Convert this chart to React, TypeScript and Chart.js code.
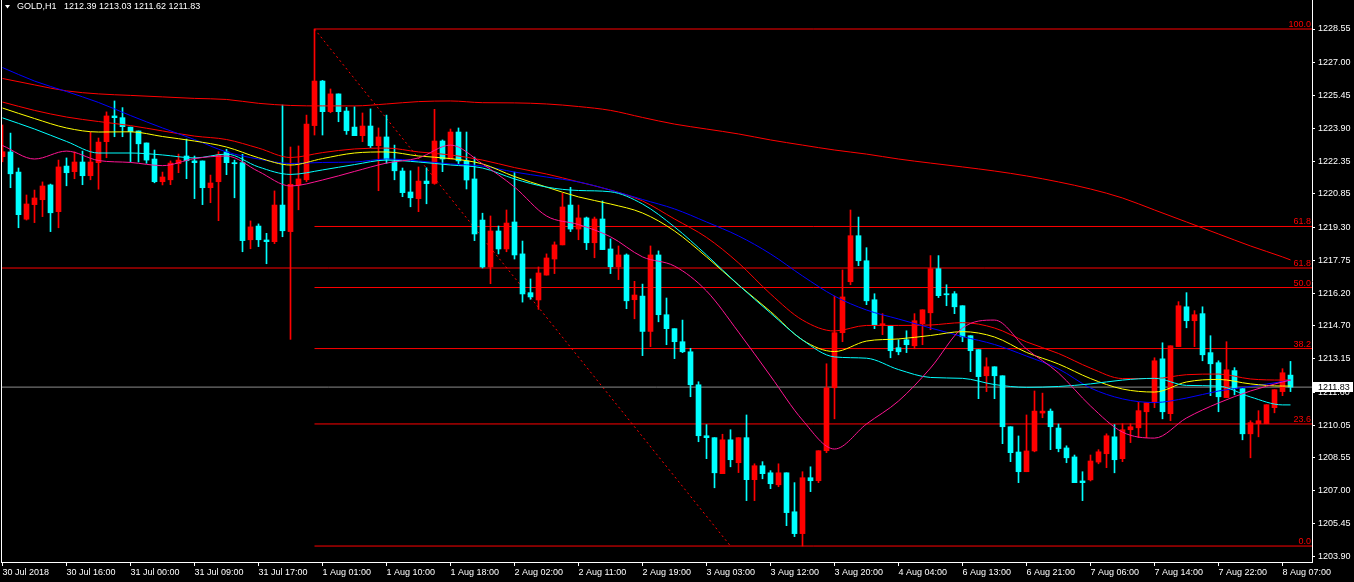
import React, { useEffect, useRef } from 'react';
import { Chart, registerables } from 'chart.js';

Chart.register(...registerables);

// ---------- DATA ----------
const symbolName = 'GOLD,H1';

const opens = [
  1222.59, 1222.81, 1221.87, 1219.67, 1220.35, 1220.58, 1221.27, 1220.02, 1222.15, 1221.89,
  1222.34, 1221.70, 1222.31, 1223.29, 1224.49, 1224.41, 1223.97, 1223.79, 1223.23, 1222.48,
  1221.42, 1221.51, 1222.26, 1222.62, 1222.39, 1222.39, 1221.14, 1221.42, 1222.81, 1222.31,
  1222.31, 1218.71, 1219.35, 1218.70, 1218.62, 1220.33, 1219.09, 1221.27, 1221.51, 1224.04,
  1226.12, 1224.69, 1225.52, 1224.72, 1223.97, 1223.57, 1224.02, 1223.10, 1223.51, 1222.35,
  1221.92, 1220.94, 1220.63, 1221.45, 1221.34, 1223.32, 1222.48, 1223.74, 1222.39, 1221.55,
  1219.63, 1217.44, 1219.12, 1218.28, 1219.54, 1218.05, 1216.24, 1215.90, 1217.06, 1217.81,
  1218.47, 1220.33, 1219.21, 1219.73, 1218.57, 1219.68, 1218.28, 1217.45, 1218.00, 1215.91,
  1216.08, 1214.43, 1218.00, 1215.21, 1214.56, 1213.95, 1213.48, 1211.94, 1209.56, 1209.47,
  1207.79, 1209.37, 1208.30, 1209.47, 1207.51, 1208.16, 1207.83, 1207.27, 1207.83, 1206.01,
  1204.99, 1207.60, 1207.46, 1208.86, 1211.80, 1214.37, 1216.75, 1218.90, 1217.73, 1215.91,
  1214.70, 1214.70, 1213.67, 1214.04, 1213.76, 1214.79, 1215.30, 1217.36, 1216.19, 1216.19,
  1215.63, 1214.23, 1213.58, 1212.36, 1212.78, 1212.36, 1209.98, 1208.80, 1207.88, 1208.85,
  1210.62, 1210.71, 1209.92, 1208.99, 1208.57, 1207.45, 1207.50, 1208.33, 1208.72, 1209.51,
  1208.49, 1209.84, 1209.93, 1210.68, 1211.10, 1213.15, 1210.59, 1213.72, 1215.58, 1214.93,
  1215.26, 1213.44, 1212.97, 1211.34, 1212.60, 1211.76, 1209.65, 1210.12, 1210.12, 1210.87,
  1211.62, 1212.39,
];
const highs = [
  1224.07, 1223.69, 1222.06, 1220.80, 1221.03, 1221.41, 1221.31, 1222.43, 1222.53, 1222.81,
  1222.85, 1223.74, 1223.46, 1224.68, 1225.19, 1224.88, 1223.97, 1223.79, 1223.23, 1222.90,
  1221.87, 1222.39, 1222.71, 1223.41, 1222.62, 1222.39, 1221.73, 1222.82, 1222.93, 1222.43,
  1222.70, 1219.59, 1219.45, 1219.01, 1220.99, 1225.00, 1223.04, 1223.09, 1224.53, 1228.55,
  1226.15, 1225.75, 1225.52, 1224.89, 1224.92, 1224.63, 1224.82, 1223.93, 1224.53, 1223.13,
  1222.06, 1221.93, 1222.11, 1222.07, 1224.80, 1223.37, 1223.88, 1223.93, 1223.74, 1222.57,
  1219.95, 1219.82, 1219.35, 1220.10, 1221.87, 1218.65, 1216.88, 1217.44, 1218.05, 1218.61,
  1220.88, 1221.16, 1220.33, 1219.77, 1219.77, 1220.52, 1218.75, 1218.42, 1218.05, 1216.77,
  1216.64, 1218.42, 1218.19, 1215.99, 1214.56, 1214.96, 1213.64, 1212.08, 1210.08, 1209.47,
  1209.63, 1209.84, 1209.47, 1210.53, 1208.25, 1208.35, 1207.93, 1208.25, 1207.83, 1207.37,
  1207.88, 1208.11, 1208.86, 1212.92, 1216.08, 1217.30, 1220.10, 1219.77, 1218.34, 1216.19,
  1215.26, 1214.70, 1214.04, 1214.46, 1215.26, 1215.44, 1217.97, 1217.97, 1216.61, 1216.29,
  1215.63, 1214.23, 1213.58, 1213.20, 1212.78, 1212.36, 1209.98, 1209.55, 1210.53, 1211.65,
  1211.55, 1210.81, 1210.11, 1209.09, 1208.66, 1207.88, 1208.66, 1208.91, 1209.65, 1210.08,
  1210.12, 1210.12, 1211.12, 1211.10, 1213.20, 1213.90, 1213.76, 1215.82, 1216.24, 1215.40,
  1215.58, 1214.23, 1213.06, 1213.95, 1212.74, 1211.76, 1210.26, 1210.73, 1211.01, 1211.71,
  1212.69, 1213.03,
];
const lows = [
  1222.35, 1221.14, 1219.27, 1219.63, 1219.51, 1219.79, 1219.09, 1219.27, 1221.23, 1221.56,
  1221.28, 1221.51, 1221.07, 1222.54, 1223.52, 1223.52, 1222.34, 1222.34, 1222.28, 1221.37,
  1221.27, 1221.28, 1221.84, 1221.56, 1220.63, 1220.35, 1220.44, 1219.60, 1221.75, 1220.67,
  1218.15, 1218.29, 1218.39, 1217.59, 1218.53, 1218.85, 1214.06, 1220.11, 1221.42, 1223.60,
  1223.60, 1224.64, 1224.22, 1223.63, 1223.57, 1223.29, 1223.01, 1221.00, 1222.28, 1221.51,
  1220.72, 1220.25, 1220.02, 1220.39, 1221.30, 1221.89, 1222.48, 1222.26, 1221.08, 1218.67,
  1217.39, 1216.66, 1218.05, 1218.15, 1217.81, 1215.80, 1215.93, 1215.46, 1217.06, 1217.13,
  1218.47, 1219.09, 1218.71, 1218.25, 1217.87, 1218.25, 1217.13, 1216.85, 1215.49, 1215.02,
  1213.30, 1213.72, 1214.88, 1213.81, 1213.16, 1213.44, 1211.38, 1209.28, 1208.49, 1207.13,
  1207.79, 1208.11, 1207.84, 1206.53, 1206.53, 1207.55, 1207.09, 1207.18, 1205.36, 1204.85,
  1204.41, 1206.95, 1207.37, 1208.77, 1210.35, 1213.95, 1216.61, 1217.50, 1215.68, 1214.56,
  1214.28, 1213.20, 1213.34, 1213.44, 1213.62, 1213.81, 1214.51, 1216.01, 1215.63, 1215.26,
  1213.95, 1212.55, 1211.29, 1211.62, 1211.29, 1209.19, 1208.35, 1207.37, 1207.88, 1208.81,
  1210.40, 1208.91, 1208.81, 1208.30, 1207.37, 1206.53, 1207.45, 1208.25, 1208.07, 1207.83,
  1208.35, 1209.24, 1209.47, 1209.47, 1210.87, 1210.35, 1210.26, 1213.72, 1214.60, 1213.72,
  1213.06, 1211.43, 1210.68, 1211.34, 1211.47, 1209.37, 1208.53, 1209.51, 1210.12, 1210.63,
  1211.43, 1211.62,
];
const closes = [
  1222.82, 1221.79, 1219.88, 1220.38, 1220.66, 1221.22, 1219.97, 1222.11, 1221.84, 1222.34,
  1221.70, 1222.34, 1223.27, 1224.49, 1224.41, 1223.99, 1223.76, 1223.19, 1222.43, 1221.42,
  1221.64, 1222.29, 1222.43, 1222.40, 1222.31, 1221.14, 1221.36, 1222.68, 1222.31, 1222.26,
  1218.67, 1219.31, 1218.71, 1218.62, 1220.33, 1219.13, 1221.30, 1221.55, 1224.11, 1226.12,
  1224.69, 1225.52, 1224.69, 1223.80, 1223.57, 1224.02, 1223.10, 1223.51, 1222.47, 1221.93,
  1220.91, 1220.67, 1221.45, 1221.33, 1223.32, 1222.48, 1223.74, 1222.39, 1221.50, 1218.98,
  1217.44, 1219.12, 1218.28, 1219.49, 1218.00, 1216.18, 1216.04, 1217.16, 1217.86, 1218.47,
  1220.24, 1219.21, 1219.73, 1218.57, 1219.68, 1218.25, 1217.45, 1218.00, 1215.86, 1216.13,
  1214.43, 1218.00, 1215.21, 1214.56, 1213.95, 1213.48, 1211.94, 1209.56, 1209.47, 1207.83,
  1209.37, 1208.44, 1209.47, 1207.51, 1208.16, 1207.79, 1207.32, 1207.83, 1205.97, 1204.99,
  1207.60, 1207.46, 1208.86, 1211.80, 1214.37, 1216.04, 1218.90, 1217.73, 1215.86, 1214.74,
  1214.79, 1213.53, 1213.48, 1213.81, 1214.93, 1215.44, 1217.36, 1216.10, 1216.14, 1215.58,
  1214.18, 1213.53, 1212.32, 1212.78, 1212.36, 1209.98, 1208.77, 1207.88, 1208.85, 1210.71,
  1210.71, 1209.98, 1208.96, 1208.53, 1207.37, 1207.37, 1208.38, 1208.81, 1209.56, 1208.44,
  1209.84, 1209.98, 1210.73, 1211.10, 1213.06, 1210.68, 1213.76, 1215.63, 1214.93, 1215.21,
  1213.34, 1212.92, 1211.38, 1212.64, 1211.76, 1209.65, 1210.17, 1210.26, 1211.01, 1211.71,
  1212.50, 1211.83,
];

// moving averages, read at every 4th bar (bar index in maBars)
const maBars = [
  0, 4, 8, 12, 16, 20, 24, 28, 32, 36, 40, 44, 48, 52, 56, 60, 64, 68, 72, 76, 80,
  84, 88, 92, 96, 100, 104, 108, 112, 116, 120, 124, 128, 132, 136, 140, 144, 148, 152, 156, 160, 161,
];
const maSlowRed = [
  1226.24, 1225.94, 1225.66, 1225.52, 1225.45, 1225.38, 1225.31, 1225.26, 1225.08, 1224.98, 1224.96,
  1224.96, 1225.05, 1225.16, 1225.19, 1225.11, 1225.10, 1225.05, 1224.93, 1224.75, 1224.42,
  1224.11, 1223.88, 1223.65, 1223.37, 1223.13, 1222.90, 1222.71, 1222.48, 1222.29, 1222.11,
  1221.92, 1221.69, 1221.41, 1221.08, 1220.66, 1220.10, 1219.54, 1218.98, 1218.42, 1217.91, 1217.77,
];
const maBlue = [
  1226.75, 1226.12, 1225.63, 1225.12, 1224.51, 1223.93, 1223.39, 1222.81, 1222.48, 1222.27, 1222.32,
  1222.34, 1222.48, 1222.39, 1222.25, 1222.15, 1221.87, 1221.64, 1221.41, 1221.03, 1220.59,
  1220.15, 1219.54, 1218.89, 1218.05, 1217.02, 1216.08, 1215.43, 1215.01, 1214.59, 1214.19,
  1213.82, 1213.28, 1212.68, 1211.79, 1211.28, 1211.11, 1211.32, 1211.65, 1211.86, 1212.09, 1212.16,
];
const maYellow = [
  1224.86, 1224.37, 1223.93, 1223.74, 1223.75, 1223.53, 1223.32, 1223.04, 1222.54, 1222.20, 1222.50,
  1222.76, 1222.81, 1222.62, 1222.50, 1222.25, 1221.66, 1221.17, 1220.71, 1220.38, 1219.96,
  1219.12, 1217.91, 1216.60, 1215.36, 1214.03, 1213.49, 1213.98, 1214.08, 1214.24, 1214.42,
  1214.17, 1213.45, 1212.91, 1212.23, 1211.74, 1211.60, 1212.07, 1212.19, 1211.98, 1211.88, 1211.88,
];
const maCyan = [
  1224.40, 1223.88, 1223.30, 1222.76, 1222.76, 1222.67, 1222.53, 1222.71, 1222.11, 1221.76, 1221.97,
  1222.22, 1222.43, 1222.34, 1222.20, 1222.06, 1221.55, 1221.17, 1221.01, 1220.95, 1220.38,
  1219.31, 1218.00, 1216.60, 1215.29, 1214.03, 1213.24, 1213.18, 1212.65, 1212.28, 1212.24,
  1211.95, 1211.82, 1211.86, 1211.98, 1212.16, 1212.24, 1211.91, 1211.88, 1211.37, 1211.00, 1211.00,
];
const maMidRed = [
  1225.14, 1224.75, 1224.44, 1224.23, 1224.04, 1223.79, 1223.55, 1223.39, 1222.99, 1222.55, 1222.78,
  1222.95, 1222.99, 1222.81, 1222.67, 1222.43, 1222.08, 1221.78, 1221.41, 1221.03, 1220.52,
  1219.68, 1218.82, 1217.63, 1216.18, 1214.96, 1214.45, 1214.71, 1214.71, 1214.73, 1214.84,
  1214.59, 1213.94, 1213.40, 1212.72, 1212.23, 1212.23, 1212.41, 1212.44, 1212.21, 1212.16, 1212.16,
];
const maPink = [
  1223.11, 1222.48, 1222.85, 1222.41, 1222.32, 1222.17, 1222.50, 1222.62, 1221.90, 1221.22, 1221.50,
  1221.90, 1222.29, 1222.53, 1223.13, 1222.25, 1221.17, 1219.82, 1219.42, 1218.85, 1217.91,
  1217.48, 1216.32, 1214.40, 1212.35, 1210.29, 1208.94, 1210.11, 1211.18, 1212.72, 1214.59,
  1214.96, 1213.61, 1212.49, 1210.95, 1209.73, 1209.45, 1210.39, 1211.09, 1211.65, 1212.07, 1212.16,
];

const timeTickBars = [0, 8, 16, 24, 32, 40, 48, 56, 64, 72, 80, 88, 96, 104, 112, 120, 128, 136, 144, 152, 160];
const timeLabels = [
  '30 Jul 2018', '30 Jul 16:00', '31 Jul 00:00', '31 Jul 09:00', '31 Jul 17:00', '1 Aug 01:00',
  '1 Aug 10:00', '1 Aug 18:00', '2 Aug 02:00', '2 Aug 11:00', '2 Aug 19:00', '3 Aug 03:00',
  '3 Aug 12:00', '3 Aug 20:00', '4 Aug 04:00', '6 Aug 13:00', '6 Aug 21:00', '7 Aug 06:00',
  '7 Aug 14:00', '7 Aug 22:00', '8 Aug 07:00',
];
const priceTicks = [
  1228.55, 1227.0, 1225.45, 1223.9, 1222.35, 1220.85, 1219.3, 1217.75, 1216.2,
  1214.7, 1213.15, 1211.6, 1210.05, 1208.55, 1207.0, 1205.45, 1203.9,
];

// Fibonacci retracement (from the high bar to the anchor bar)
const fibNames = ['100.0', '61.8', '50.0', '38.2', '23.6', '0.0'];
const fibPrices = [1228.55, 1219.33, 1216.48, 1213.63, 1210.11, 1204.41];
const fibStartBar = 39;
const fibEndBar = 91;
const fib2Name = '61.8';
const fib2Price = 1217.39;

// ---------- LAYOUT CONSTANTS ----------
const X_MIN = -0.1875;
const X_MAX = 163.6875;
const Y_MIN = 1203.665;
const Y_MAX = 1229.904;
const FONT = '"Liberation Sans", Arial, sans-serif';

const RED = '#ff0000';
const AQUA = '#00ffff';

export default function App() {
  const ref = useRef<HTMLCanvasElement | null>(null);

  useEffect(() => {
    document.body.style.margin = '0';
    document.body.style.background = '#000';
    const canvas = ref.current;
    if (!canvas) return;

    const bars = opens.map((_, i) => i);
    const colors = opens.map((o, i) => (closes[i] >= o ? RED : AQUA));
    const last = closes.length - 1;

    const maLine = (vals: number[], color: string, order: number) => ({
      type: 'line' as const,
      data: maBars.map((b, i) => ({ x: b, y: vals[i] })),
      borderColor: color,
      borderWidth: 1,
      pointRadius: 0,
      cubicInterpolationMode: 'monotone' as const,
      order,
    });

    const hLine = (from: number, to: number, price: number, color: string, order: number, dash: number[] = []) => ({
      type: 'line' as const,
      data: [
        { x: from, y: price },
        { x: to, y: price },
      ],
      borderColor: color,
      borderWidth: 1,
      borderDash: dash,
      pointRadius: 0,
      order,
    });

    const decor = {
      id: 'decor',
      beforeDraw(chart: any) {
        const c = chart.ctx;
        c.save();
        c.fillStyle = '#000';
        c.fillRect(0, 0, chart.width, chart.height);
        c.restore();
      },
      afterDraw(chart: any) {
        const c = chart.ctx;
        const area = chart.chartArea;
        const ys = chart.scales.y;
        c.save();
        // left frame
        c.strokeStyle = '#fff';
        c.lineWidth = 1;
        c.beginPath();
        c.moveTo(area.left + 0.5, 0);
        c.lineTo(area.left + 0.5, area.bottom);
        c.stroke();

        // fib labels
        c.font = `9px ${FONT}`;
        c.fillStyle = RED;
        c.textAlign = 'right';
        c.textBaseline = 'alphabetic';
        fibPrices.forEach((p, i) => {
          c.fillText(fibNames[i], area.right - 1, Math.round(ys.getPixelForValue(p)) - 2);
        });
        c.fillText(fib2Name, area.right - 1, Math.round(ys.getPixelForValue(fib2Price)) - 2);

        // current price box
        const py = Math.round(ys.getPixelForValue(closes[last]));
        c.fillStyle = '#fff';
        c.fillRect(area.right + 1, py - 5, 40, 10);
        c.fillStyle = '#000';
        c.textAlign = 'left';
        c.textBaseline = 'middle';
        c.fillText(closes[last].toFixed(2), area.right + 6, py + 0.5);

        // header
        c.fillStyle = '#fff';
        c.beginPath();
        c.moveTo(5, 5);
        c.lineTo(10, 5);
        c.lineTo(7.5, 8.5);
        c.closePath();
        c.fill();
        c.textBaseline = 'middle';
        c.fillText(symbolName, 17, 7);
        c.fillText(
          [opens[last], highs[last], lows[last], closes[last]].map((v) => v.toFixed(2)).join(' '),
          64,
          7
        );
        c.restore();
      },
    };

    const chart = new Chart(canvas, {
      type: 'bar',
      data: {
        datasets: [
          maLine(maPink, '#ff1493', 0),
          maLine(maCyan, AQUA, 0),
          maLine(maYellow, '#ffff00', 0),
          maLine(maBlue, '#0000ff', 0),
          maLine(maMidRed, RED, 0),
          maLine(maSlowRed, RED, 0),
          {
            type: 'bar',
            data: bars.map((i) => ({ x: i, y: [opens[i], closes[i]] })),
            backgroundColor: colors,
            borderWidth: 0,
            barThickness: 5,
            maxBarThickness: 5,
            minBarLength: 1,
            grouped: false,
            order: 2,
          } as any,
          {
            type: 'bar',
            data: bars.map((i) => ({ x: i, y: [lows[i], highs[i]] })),
            backgroundColor: colors,
            borderWidth: 0,
            barThickness: 1,
            maxBarThickness: 1,
            minBarLength: 1,
            grouped: false,
            order: 3,
          } as any,
          hLine(X_MIN, X_MAX, closes[last], '#8c8c8c', 4),
          hLine(X_MIN, X_MAX, fib2Price, RED, 5),
          ...fibPrices.map((p) => hLine(fibStartBar, X_MAX, p, RED, 5)),
          {
            type: 'line',
            data: [
              { x: fibStartBar, y: fibPrices[0] },
              { x: fibEndBar, y: fibPrices[fibPrices.length - 1] },
            ],
            borderColor: RED,
            borderWidth: 1,
            borderDash: [2, 3],
            pointRadius: 0,
            order: 5,
          },
        ] as any,
      },
      options: {
        animation: false,
        responsive: false,
        devicePixelRatio: 1,
        events: [],
        layout: { padding: { left: 1, right: 0, top: 0, bottom: 0 } },
        plugins: { legend: { display: false }, tooltip: { enabled: false } },
        scales: {
          x: {
            type: 'linear',
            min: X_MIN,
            max: X_MAX,
            offset: false,
            bounds: 'data',
            afterBuildTicks: (axis: any) => {
              axis.ticks = timeTickBars.map((v) => ({ value: v }));
            },
            afterFit: (axis: any) => {
              axis.height = 20;
              axis.paddingLeft = 0;
              axis.paddingRight = 0;
            },
            ticks: {
              color: '#fff',
              font: { family: FONT, size: 9 },
              autoSkip: false,
              maxRotation: 0,
              minRotation: 0,
              align: 'start',
              padding: 1,
              callback: (_v: any, i: number) => timeLabels[i],
            },
            grid: { display: true, drawOnChartArea: false, drawTicks: true, tickLength: 4, color: '#fff', offset: false },
            border: { display: true, color: '#fff', width: 1 },
          },
          y: {
            type: 'linear',
            position: 'right',
            min: Y_MIN,
            max: Y_MAX,
            bounds: 'data',
            beginAtZero: false,
            afterBuildTicks: (axis: any) => {
              axis.ticks = priceTicks.map((v) => ({ value: v }));
            },
            afterFit: (axis: any) => {
              axis.width = 42;
              axis.paddingTop = 0;
              axis.paddingBottom = 0;
            },
            ticks: {
              color: '#fff',
              font: { family: FONT, size: 9 },
              autoSkip: false,
              padding: 3,
              crossAlign: 'near',
              callback: (v: any) => Number(v).toFixed(2),
            },
            grid: { display: true, drawOnChartArea: false, drawTicks: true, tickLength: 3, color: '#fff' },
            border: { display: true, color: '#fff', width: 1 },
          },
        },
      } as any,
      plugins: [decor],
    });

    return () => chart.destroy();
  }, []);

  return (
    <div style={{ width: 1354, height: 582, background: '#000' }}>
      <canvas ref={ref} width={1354} height={582} style={{ display: 'block' }} />
    </div>
  );
}
